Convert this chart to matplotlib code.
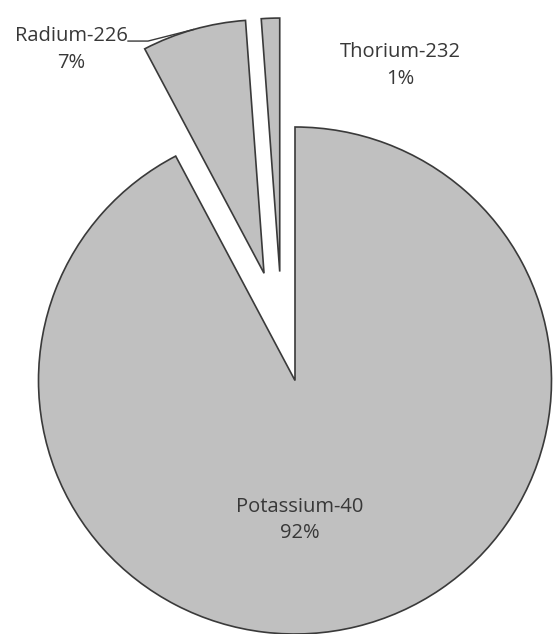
import numpy as np
import matplotlib.pyplot as plt

# sources of natural radioactivity (share, %)
isotopes = ['Potassium-40', 'Radium-226', 'Thorium-232']
shares = [92.3, 6.55, 1.15]
explode = [0, 0.44, 0.43]

plt.rcParams['font.family'] = ['Open Sans', 'DejaVu Sans']
text_color = '#383838'

fig = plt.figure(figsize=(5.53, 6.34), dpi=100)
ax = fig.add_axes([0, 0, 1, 1])

wedges, _ = ax.pie(shares, explode=explode, startangle=90, counterclock=False,
                   colors=['#c0c0c0'] * 3,
                   wedgeprops=dict(edgecolor='#3a3a3a', linewidth=1.2))

# thorium slice sits a little further left than its own bisector
th = wedges[2]
th.set_center((th.center[0] - 0.044, th.center[1]))

pcts = np.array(shares) / sum(shares) * 100
labels = [f'{name}\n{p:.0f}%' for name, p in zip(isotopes, pcts)]

ax.text(0.02, -0.55, labels[0], ha='center', va='center', fontsize=14.5,
        color=text_color, linespacing=1.45)
ax.text(-0.873, 1.305, labels[1], ha='center', va='center', fontsize=14.5,
        color=text_color, linespacing=1.45)
ax.text(0.411, 1.243, labels[2], ha='center', va='center', fontsize=14.5,
        color=text_color, linespacing=1.45)

# leader line from the radium label to the middle of its arc
ra = wedges[1]
mid = np.deg2rad((ra.theta1 + ra.theta2) / 2)
cx, cy = ra.center
ax.plot([-0.651, -0.573, cx + np.cos(mid)], [1.339, 1.339, cy + np.sin(mid)],
        color='#3a3a3a', linewidth=1.0)

ax.set_aspect('auto')
ax.set_xlim(-295 / 256.5, 258 / 256.5)
ax.set_ylim(-1.0, 380.5 / 253.5)
ax.axis('off')

fig.savefig('out.png', dpi=100)
